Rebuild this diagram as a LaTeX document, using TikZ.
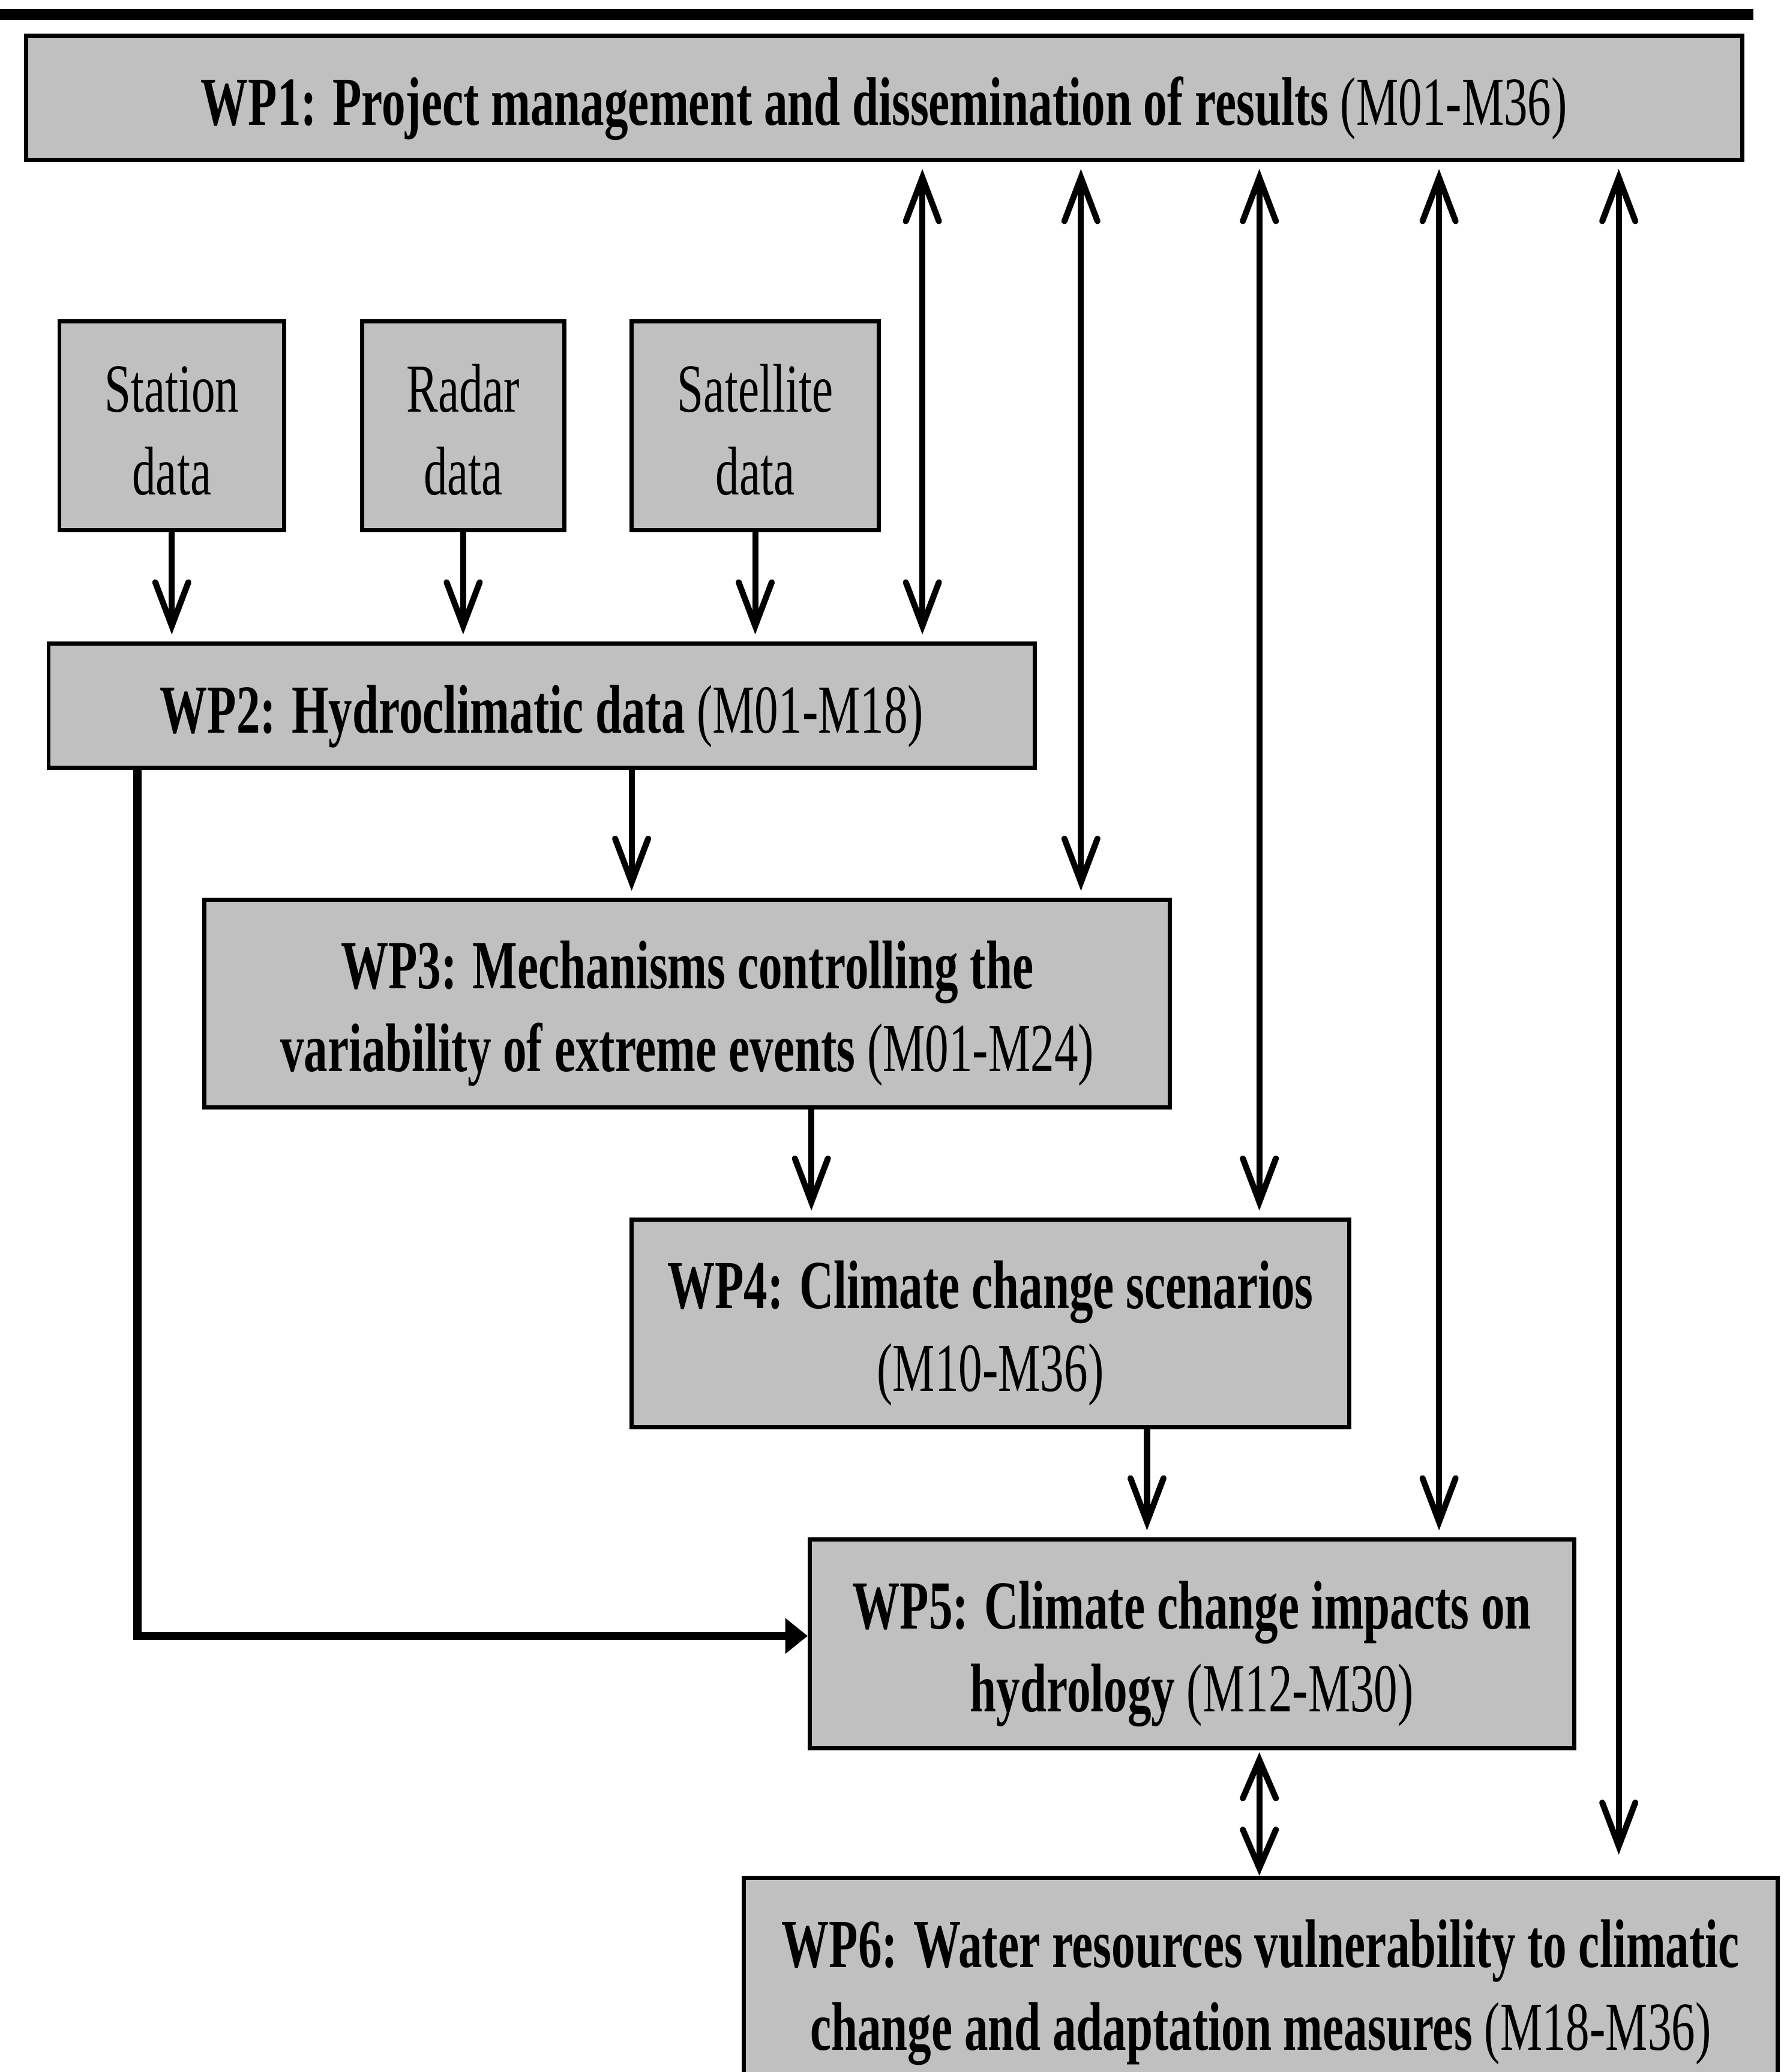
\documentclass[tikz,border=0pt]{standalone}
\usepackage{fontspec}
\setmainfont{Liberation Serif}[FakeStretch=0.69]
\usetikzlibrary{arrows.meta}
\definecolor{boxgray}{HTML}{C0C0C0}
\newcommand{\wpfont}{\fontsize{14.8}{17.8}\selectfont}
\newcommand{\toplift}[1]{\rule{0pt}{#1}}

\begin{document}
\begin{tikzpicture}[x=0.01cm,y=-0.01cm,
  wpbox/.style={draw,line width=0.9pt,fill=boxgray,align=center,inner sep=0pt,font=\wpfont,
    execute at begin node={\rule{0pt}{15pt}}},
  arr/.style={line width=1.3pt,-{Straight Barb[length=3.3mm,width=2.5mm,line cap=round]},shorten >=1.5pt},
  biarr/.style={line width=1.3pt,{Straight Barb[length=3.3mm,width=2.5mm,line cap=round]}-{Straight Barb[length=3.3mm,width=2.5mm,line cap=round]},shorten >=1.5pt,shorten <=1.5pt},
  elbow/.style={line width=1.7pt,-{Triangle[length=1.7mm,width=2.6mm]}}]
\clip (0,0) rectangle (1350,1568);
\useasboundingbox (0,0) rectangle (1350,1568);
\fill (0,7) rectangle (1327,15);

% work packages
\node[wpbox,minimum width=12.98cm,minimum height=0.94cm] (wpone) at (669,74)
  {\textbf{WP1: Project management and dissemination of results} (M01-M36)};
\node[wpbox,minimum width=1.70cm,minimum height=1.58cm] (station) at (130,322) {\toplift{12.2pt}Station\\data};
\node[wpbox,minimum width=1.53cm,minimum height=1.58cm] (radar) at (350.5,322) {\toplift{12.2pt}Radar\\data};
\node[wpbox,minimum width=1.87cm,minimum height=1.58cm] (satellite) at (571.5,322) {\toplift{12.2pt}Satellite\\data};
\node[wpbox,minimum width=7.46cm,minimum height=0.94cm] (wptwo) at (410,534)
  {\textbf{WP2: Hydroclimatic data} (M01-M18)};
\node[wpbox,minimum width=7.30cm,minimum height=1.57cm] (wpthree) at (520,759.5)
  {\toplift{14.6pt}\textbf{WP3: Mechanisms controlling the}\\\textbf{variability of extreme events} (M01-M24)};
\node[wpbox,minimum width=5.43cm,minimum height=1.57cm] (wpfour) at (749.5,1001.5)
  {\toplift{14.6pt}\textbf{WP4: Climate change scenarios}\\(M10-M36)};
\node[wpbox,minimum width=5.78cm,minimum height=1.58cm] (wpfive) at (902,1244)
  {\toplift{14.6pt}\textbf{WP5: Climate change impacts on}\\\textbf{hydrology} (M12-M30)};
\node[wpbox,minimum width=7.82cm,minimum height=1.58cm] (wpsix) at (954,1500)
  {\toplift{14.6pt}\textbf{WP6: Water resources vulnerability to climatic}\\\textbf{change and adaptation measures} (M18-M36)};

% data inputs
\foreach \src in {station,radar,satellite}
  \draw[arr] (\src.south) -- (\src.south |- wptwo.north);

% links with WP1
\draw[biarr] (698,0 |- wpone.south) -- (698,0 |- wptwo.north);
\draw[biarr] (818,0 |- wpone.south) -- (818,0 |- wpthree.north);
\draw[biarr] (953,0 |- wpone.south) -- (953,0 |- wpfour.north);
\draw[biarr] (1089,0 |- wpone.south) -- (1089,0 |- wpfive.north);
\draw[biarr,shorten >=4.5pt] (1225,0 |- wpone.south) -- (1225,0 |- wpsix.north);

% chain of work packages
\draw[arr] (478,0 |- wptwo.south) -- (478,0 |- wpthree.north);
\draw[arr] (614,0 |- wpthree.south) -- (614,0 |- wpfour.north);
\draw[arr] (868,0 |- wpfour.south) -- (868,0 |- wpfive.north);
\draw[line width=1.3pt,{Straight Barb[length=2.9mm,width=2.5mm,line cap=round]}-{Straight Barb[length=2.9mm,width=2.5mm,line cap=round]},shorten <=0.4pt]
  (953,0 |- wpfive.south) -- (953,0 |- wpsix.north);
\draw[elbow] (104,0 |- wptwo.south) |- ([yshift=0.6mm]wpfive.west);
\end{tikzpicture}
\end{document}
